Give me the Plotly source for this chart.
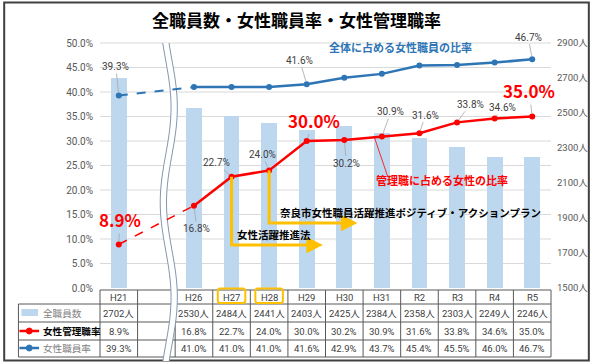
import math
import plotly.graph_objects as go

# ---------------- data ----------------
categories = ["H21", "H26", "H27", "H28", "H29", "H30", "H31", "R2", "R3", "R4", "R5"]
staff_total = [2702, 2530, 2484, 2441, 2403, 2425, 2384, 2358, 2303, 2249, 2246]
female_mgr_rate = [8.9, 16.8, 22.7, 24.0, 30.0, 30.2, 30.9, 31.6, 33.8, 34.6, 35.0]
female_staff_rate = [39.3, 41.0, 41.0, 41.0, 41.6, 42.9, 43.7, 45.4, 45.5, 46.0, 46.7]
left_ticks = [0, 5, 10, 15, 20, 25, 30, 35, 40, 45, 50]
right_ticks = [1500, 1700, 1900, 2100, 2300, 2500, 2700, 2900]
row_labels = ["全職員数", "女性管理職率", "女性職員率"]
title_text = "全職員数・女性職員率・女性管理職率"
blue_series_label = "全体に占める女性職員の比率"
red_series_label = "管理職に占める女性の比率"
law_label = "女性活躍推進法"
plan_label = "奈良市女性職員活躍推進ポジティブ・アクションプラン"

# ---------------- layout geometry ----------------
W, H = 600, 363
L, R, T, B = 100, 41, 43, 75
PW, PH = W - L - R, H - T - B
NSLOT = 12
SW = PW / NSLOT
slots = [0] + list(range(2, 12))  # slot 1 is the break gap

FONT = "Noto Sans CJK JP, Noto Sans, sans-serif"
NUMFONT = "Roboto, Noto Sans CJK JP, sans-serif"
BLUE = "#2E75B6"
RED = "#FF0000"
BAR = "#BDD7EE"
ORANGE = "#FFC000"
GRID = "#D9D9D9"
TXT = "#404040"
TBL = "#595959"


def fx(px):
    return (px - L) / PW


def fy(py):
    return (H - B - py) / PH


def slot_px(i):
    return L + (i + 0.5) * SW


def ptext(x, y, text, font, xanchor="center"):
    return dict(x=fx(x), y=fy(y), xref="paper", yref="paper", text=text, showarrow=False,
                xanchor=xanchor, yanchor="middle", font=font)


fig = go.Figure()

fig.add_trace(go.Bar(x=slots, y=staff_total, width=0.42, marker_color=BAR,
                     marker_line_width=0, yaxis="y", hoverinfo="skip"))

fig.add_trace(go.Scatter(x=slots[:2], y=female_staff_rate[:2], mode="lines",
                         line=dict(color=BLUE, width=2, dash="dash"), yaxis="y2"))
fig.add_trace(go.Scatter(x=slots[1:], y=female_staff_rate[1:], mode="lines+markers",
                         line=dict(color=BLUE, width=2.5), marker=dict(size=6, color=BLUE),
                         yaxis="y2"))
fig.add_trace(go.Scatter(x=slots[:1], y=female_staff_rate[:1], mode="markers",
                         marker=dict(size=6, color=BLUE), yaxis="y2"))
fig.add_trace(go.Scatter(x=slots[:2], y=female_mgr_rate[:2], mode="lines",
                         line=dict(color=RED, width=1.5, dash="dash"), yaxis="y2"))
fig.add_trace(go.Scatter(x=slots[1:], y=female_mgr_rate[1:], mode="lines+markers",
                         line=dict(color=RED, width=2.5), marker=dict(size=6, color=RED),
                         yaxis="y2"))
fig.add_trace(go.Scatter(x=slots[:1], y=female_mgr_rate[:1], mode="markers",
                         marker=dict(size=6, color=RED), yaxis="y2"))

shapes = []
annotations = []

# frame
shapes.append(dict(type="rect", xref="paper", yref="paper", x0=fx(2.5), x1=fx(597.5),
                   y0=fy(360.5), y1=fy(2.5), line=dict(color="#404040", width=2),
                   layer="below"))

# gridlines (left axis)
for v in left_ticks[1:]:
    shapes.append(dict(type="line", xref="paper", yref="paper", x0=0, x1=1,
                       y0=v / 50, y1=v / 50, line=dict(color=GRID, width=1), layer="below"))

# table lines
tbl_rows = [290, 304, 322, 340, 357]
shapes.append(dict(type="line", xref="paper", yref="paper", x0=fx(L), x1=fx(L + PW),
                   y0=fy(tbl_rows[0]), y1=fy(tbl_rows[0]), line=dict(color=TBL, width=1),
                   layer="below"))
for ry in tbl_rows[1:]:
    shapes.append(dict(type="line", xref="paper", yref="paper", x0=fx(17), x1=fx(L + PW),
                       y0=fy(ry), y1=fy(ry), line=dict(color=TBL, width=1), layer="below"))
shapes.append(dict(type="line", xref="paper", yref="paper", x0=fx(17), x1=fx(17),
                   y0=fy(304), y1=fy(357), line=dict(color=TBL, width=1), layer="below"))
for k in range(NSLOT + 1):
    xx = L + k * SW
    shapes.append(dict(type="line", xref="paper", yref="paper", x0=fx(xx), x1=fx(xx),
                       y0=fy(290), y1=fy(357), line=dict(color=TBL, width=1), layer="below"))


# wavy break
def wave_c(y):
    return 170 + 5.5 * math.sin(2 * math.pi * (y - 60) / 190)


ys = list(range(43, 362, 2))
lpts = [(wave_c(y) - 3.2, y) for y in ys]
rpts = [(wave_c(y) + 3.2, y) for y in ys]


def pth(pts):
    return "M " + " L ".join(f"{fx(x):.5f},{fy(y):.5f}" for x, y in pts)


shapes.append(dict(type="path", xref="paper", yref="paper", path=pth(lpts + rpts[::-1]) + " Z",
                   fillcolor="white", line=dict(width=0), layer="below"))
for pts in (lpts, rpts):
    shapes.append(dict(type="path", xref="paper", yref="paper", path=pth(pts),
                       line=dict(color="#8497B0", width=1), layer="below"))


def rrect(x0, y0, x1, y1, r):
    return (f"M {fx(x0 + r)},{fy(y0)} L {fx(x1 - r)},{fy(y0)} Q {fx(x1)},{fy(y0)} {fx(x1)},{fy(y0 + r)} "
            f"L {fx(x1)},{fy(y1 - r)} Q {fx(x1)},{fy(y1)} {fx(x1 - r)},{fy(y1)} "
            f"L {fx(x0 + r)},{fy(y1)} Q {fx(x0)},{fy(y1)} {fx(x0)},{fy(y1 - r)} "
            f"L {fx(x0)},{fy(y0 + r)} Q {fx(x0)},{fy(y0)} {fx(x0 + r)},{fy(y0)} Z")


for s in (3, 4):
    cx = slot_px(s)
    shapes.append(dict(type="path", xref="paper", yref="paper",
                       path=rrect(cx - 14, 288.5, cx + 14, 303, 2.5),
                       line=dict(color=ORANGE, width=2), layer="above"))

# orange L arrows
arrow_specs = [(3, female_mgr_rate[2], 8.8, 5.43, law_label, 277, 234, "center"),
               (4, female_mgr_rate[3], 13.27, 6.35, plan_label, 281, 212, "left")]
for s, ytop, ybot, xhead, lbl, tx, ty, anc in arrow_specs:
    shapes.append(dict(type="line", xref="x", yref="y2", x0=s, x1=s, y0=ytop, y1=ybot - 0.3,
                       line=dict(color=ORANGE, width=3), layer="above"))
    annotations.append(dict(x=xhead, y=ybot, xref="x", yref="y2", ax=s, ay=ybot,
                            axref="x", ayref="y2", text="", showarrow=True, arrowhead=2,
                            arrowsize=1.1, arrowwidth=3, arrowcolor=ORANGE,
                            standoff=0, startstandoff=0))
    annotations.append(ptext(tx, ty, f"<b>{lbl}</b>",
                             dict(family=FONT, size=10.5, color="#000000"), anc))

# red series label leader
shapes.append(dict(type="line", xref="x", yref="y2", x0=6.79, y0=31.0, x1=7.16, y1=22.65,
                   line=dict(color=RED, width=0.8), layer="above"))

# data labels
blue_offsets = {0: (-3, -29), 4: (-7, -24), 10: (-4, -22)}
red_offsets = {0: (1, -25, True), 1: (3, 23, False), 2: (-15, -14, False), 3: (-7, -16, False),
               4: (7, -21, True), 5: (2, 23, False), 6: (9, -25, False), 7: (6, -18, False),
               8: (13, -18, False), 9: (8, -11, False), 10: (-3, -26, True)}
for i, (ax, ay) in blue_offsets.items():
    annotations.append(dict(x=slots[i], y=female_staff_rate[i], xref="x", yref="y2",
                            ax=ax, ay=ay, text=f"{female_staff_rate[i]:.1f}%", showarrow=True,
                            arrowhead=0, arrowwidth=0.8, arrowcolor="#A6A6A6", standoff=3,
                            font=dict(family=NUMFONT, size=10, color=TXT)))
for i, (ax, ay, big) in red_offsets.items():
    if big:
        txt, fnt = f"<b>{female_mgr_rate[i]:.1f}%</b>", dict(family=FONT, size=17, color=RED)
    else:
        txt, fnt = f"{female_mgr_rate[i]:.1f}%", dict(family=NUMFONT, size=10, color=TXT)
    annotations.append(dict(x=slots[i], y=female_mgr_rate[i], xref="x", yref="y2",
                            ax=ax, ay=ay, text=txt, showarrow=True, arrowhead=0,
                            arrowwidth=0.8, arrowcolor="#A6A6A6", standoff=3, font=fnt))

# series labels
annotations.append(ptext(406, 47, f"<b>{blue_series_label}</b>",
                         dict(family=FONT, size=11, color=BLUE)))
annotations.append(ptext(448, 180, f"<b>{red_series_label}</b>",
                         dict(family=FONT, size=11, color=RED)))

# title
annotations.append(ptext(300, 20, f"<b>{title_text}</b>",
                         dict(family=FONT, size=17, color="#000000")))

# table text
row_y = [313, 331, 348]
for j, s in enumerate(slots):
    cx = slot_px(s)
    annotations.append(ptext(cx, 297, categories[j], dict(family=NUMFONT, size=9.5, color=TXT)))
    vals = [f"{staff_total[j]}人", f"{female_mgr_rate[j]:.1f}%", f"{female_staff_rate[j]:.1f}%"]
    for v, ry in zip(vals, row_y):
        annotations.append(ptext(cx, ry, v, dict(family=NUMFONT, size=9.5, color=TXT)))

# legend column
shapes.append(dict(type="rect", xref="paper", yref="paper", x0=fx(20), x1=fx(37),
                   y0=fy(316), y1=fy(309), fillcolor=BAR, line=dict(width=0)))
for col, ry in ((RED, 331), (BLUE, 348)):
    shapes.append(dict(type="line", xref="paper", yref="paper", x0=fx(18), x1=fx(38),
                       y0=fy(ry), y1=fy(ry), line=dict(color=col, width=2.5)))
    shapes.append(dict(type="circle", xref="paper", yref="paper", x0=fx(25), x1=fx(31),
                       y0=fy(ry + 3), y1=fy(ry - 3), fillcolor=col, line=dict(color=col, width=1)))
row_styles = [("#7F7F7F", False), ("#000000", True), ("#7F7F7F", False)]
for lbl, ry, (col, bold) in zip(row_labels, row_y, row_styles):
    annotations.append(ptext(40, ry, f"<b>{lbl}</b>" if bold else lbl,
                             dict(family=FONT, size=9.6, color=col), "left"))

fig.update_layout(
    width=W, height=H,
    margin=dict(l=L, r=R, t=T, b=B, pad=0),
    paper_bgcolor="white", plot_bgcolor="rgba(0,0,0,0)",
    showlegend=False,
    font=dict(family=FONT, size=10, color=TXT),
    xaxis=dict(range=[-0.5, 11.5], showticklabels=False, showgrid=False, zeroline=False,
               showline=False, ticks=""),
    yaxis=dict(side="right", range=[1500, 2900], tickvals=right_ticks,
               ticktext=[f"{v}人" for v in right_ticks], showgrid=False, zeroline=False,
               showline=False, ticks="", ticklabelstandoff=5,
               tickfont=dict(family=NUMFONT, size=9.5, color="#595959")),
    yaxis2=dict(overlaying="y", side="left", range=[0, 50], tickvals=left_ticks,
                ticktext=[f"{v:.1f}%" for v in left_ticks], showgrid=False, zeroline=False,
                showline=False, ticks="", ticklabelstandoff=6,
                tickfont=dict(family=NUMFONT, size=10, color="#595959")),
    shapes=shapes,
    annotations=annotations,
    bargap=0,
)

fig.write_html("out.html", config={"displayModeBar": False},
               post_script="document.body.style.margin='0';document.body.style.overflow='hidden';")
